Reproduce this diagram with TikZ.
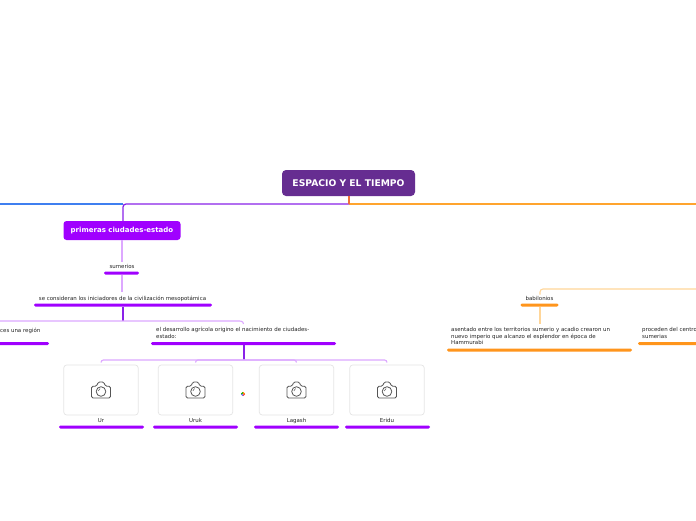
\documentclass[tikz,border=0pt]{standalone}
\usepackage{fontspec}
\setmainfont{DejaVu Sans}
\usetikzlibrary{calc}
\definecolor{rootc}{HTML}{662D91}
\definecolor{purp}{HTML}{A000FF}
\definecolor{deep}{HTML}{8A22E8}
\definecolor{pale}{HTML}{DDA8FF}
\definecolor{orng}{HTML}{FFA42E}
\definecolor{paleo}{HTML}{FFD699}
\definecolor{bluel}{HTML}{3F7FF0}
\definecolor{stub}{HTML}{F0703A}
\definecolor{txtc}{HTML}{222222}
\definecolor{camc}{HTML}{555555}
\tikzset{
 x=1pt,y=-1pt,
 rootbox/.style={fill=rootc,rounded corners=4pt,minimum width=133pt,minimum height=26pt,inner sep=0pt,text=white,font=\fontsize{9.2}{10}\selectfont\bfseries},
 mainbox/.style={fill=purp,rounded corners=3pt,minimum width=117pt,minimum height=19pt,inner sep=0pt,text=white,font=\fontsize{7}{8}\selectfont\bfseries},
 lab/.style={inner sep=0pt,text=txtc,font=\fontsize{5.45}{6.5}\selectfont,align=left},
 tag/.style={lab,anchor=base},
 barp/.style={fill=purp,rounded corners=1.3pt,minimum height=3pt,inner sep=0pt,minimum width=#1},
 baro/.style={fill=orng!60!orange,rounded corners=1.3pt,minimum height=3pt,inner sep=0pt,minimum width=#1},
 imgbox/.style={draw=black!10,line width=.7pt,fill=white,rounded corners=3pt,minimum width=74.5pt,minimum height=50pt,inner sep=0pt},
 strong/.style={line width=1.3pt},
 thin line/.style={line width=1.1pt,rounded corners=3pt},
 camera/.pic={
  \draw[camc,line width=.8pt,line join=round,rounded corners=1.5pt]
   (-9.5,8) -- (-9.5,-3.8) -- (-4.2,-3.8) -- (-3,-8) -- (3,-8) -- (4.2,-3.8) -- (9.5,-3.8) -- (9.5,8) -- cycle;
  \draw[camc,line width=.8pt] (0,1.5) circle (4.8);
  \draw[camc,line width=.5pt] (-2.7,1) arc (180:250:2.7);
 }
}
\begin{document}
\begin{tikzpicture}
\useasboundingbox (0,0) rectangle (696,520);
\fill[white] (0,0) rectangle (696,520);

% free ends
\coordinate (leftmain) at (0,204);
\coordinate (rightmain) at (696,204);
\coordinate (rightsub) at (696,289);
\coordinate (jr) at (349,204);
\coordinate (j1) at (123,204);
\coordinate (j2) at (123,321);
\coordinate (j3) at (244,360);
\coordinate (left2) at (0,321);
\coordinate (jb) at (540,300);

% nodes
\node[rootbox] (root) at (348.5,183) {ESPACIO Y EL TIEMPO};
\node[mainbox] (prim) at (122,230.5) {primeras ciudades-estado};
\node[tag] (sum) at (122,268) {sumerios};
\node[barp=35pt] (sumb) at (121.5,273) {};
\node[tag] (cons) at (122.5,300) {se consideran los iniciadores de la civilización mesopotámica};
\node[barp=178pt] (consb) at (123,305) {};
\node[lab,anchor=base east] (ces) at (40.5,332) {ces una región};
\node[barp=60pt] (cesb) at (19,343.5) {};
\node[lab,anchor=north west] (des) at (156,327.4) {el desarrollo agrícola origino el nacimiento de ciudades-\\estado:};
\node[barp=185pt] (desb) at (243.5,343.5) {};

\node[imgbox] (ur) at (101,390) {};
\node[imgbox] (uruk) at (195.5,390) {};
\node[imgbox] (lag) at (296.5,390) {};
\node[imgbox] (eri) at (387,390) {};
\foreach \n in {ur,uruk,lag,eri} \pic at (\n) {camera};
\node[tag] (urt) at (101,422) {Ur};
\node[tag] (urukt) at (195.5,422) {Uruk};
\node[tag] (lagt) at (296.5,422) {Lagash};
\node[tag] (erit) at (387,422) {Eridu};
\node[barp=85pt] (urb) at (101.5,427) {};
\node[barp=85pt] (urukb) at (195.5,427) {};
\node[barp=85pt] (lagb) at (296.5,427) {};
\node[barp=85pt] (erib) at (387.5,427) {};

\node[tag] (bab) at (539.5,300) {babilonios};
\node[baro=38pt] (babb) at (539.5,305) {};
\node[lab,anchor=north west] (ase) at (451,327.4) {asentado entre los territorios sumerio y acadio crearon un\\nuevo imperio que alcanzo el esplendor en época de\\Hammurabi};
\node[baro=185pt] (aseb) at (539.5,350) {};
\node[lab,anchor=north west] (pro) at (642,327.4) {proceden del centro\\sumerias};
\node[baro=60pt] (prob) at (668,343.5) {};

% dot
\foreach \a/\c in {0/red!80,90/blue!60,180/green!70!black,270/orange}
  \draw[\c,line width=1.2pt] (243,394) ++(\a:1.6) arc (\a:\a+90:1.6);

% main connectors
\draw[bluel,strong] (leftmain) -- (j1);
\draw[orng,strong] (jr) -- (rightmain);
\draw[deep,strong,rounded corners=3pt] (jr) -- (j1) -- (prim.north -| j1);
\draw[stub,strong] (root.south -| jr) -- (jr);

\draw[pale,thin line] (prim.south) -- ($(sum.north)+(0,-2)$);
\draw[pale,thin line] (sumb.south -| prim) -- ($(cons.north -| prim)+(0,-3)$);
\draw[deep,strong] (consb.south -| j2) -- (j2);
\draw[pale,thin line] (left2) -- ($(j2 -| desb)+(-8,0)$) to[out=0,in=90] ++(8,3);
\draw[deep,strong] (desb.south -| j3) -- (j3);
\draw[pale,thin line] (ur.north |- j3) ++(0,2.5) to[out=90,in=180] ($(ur.north |- j3)+(8,0)$) -- ($(eri.north |- j3)+(-8,0)$) to[out=0,in=90] ++(8,2.5);
\draw[pale,thin line] (uruk.north |- j3) ++(0,2.5) to[out=90,in=180] ($(uruk.north |- j3)+(8,0)$) -- ($(lag.north |- j3)+(-8,0)$) to[out=0,in=90] ++(8,2.5);

\draw[paleo,thin line] (rightsub) -- (jb |- rightsub) -- ($(bab.north -| jb)+(0,-1)$);
\draw[paleo,thin line] (babb.south -| jb) -- ($(ase.north -| jb)+(0,-3)$);
\end{tikzpicture}
\end{document}
